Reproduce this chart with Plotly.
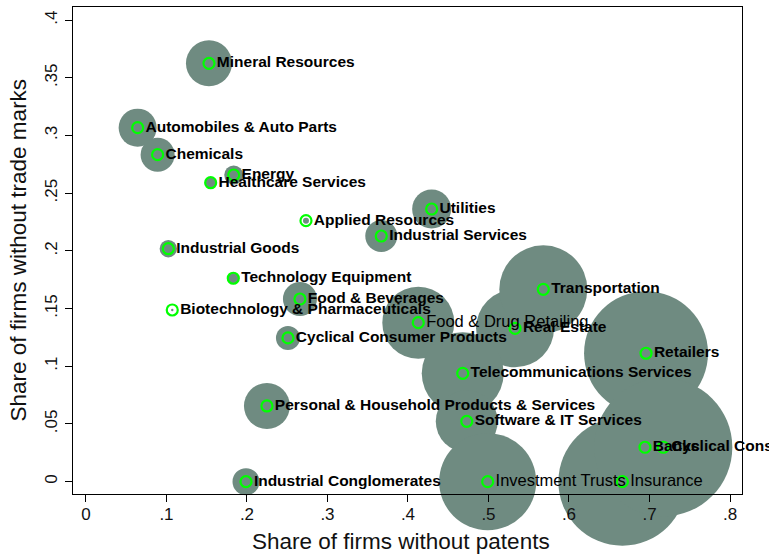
import plotly.graph_objects as go

# Sector-level shares (x: firms without patents, y: firms without trade marks)
sectors = [
    "Mineral Resources", "Automobiles & Auto Parts", "Chemicals", "Energy",
    "Healthcare Services", "Applied Resources", "Utilities", "Industrial Services",
    "Industrial Goods", "Technology Equipment", "Biotechnology & Pharmaceuticals",
    "Food & Beverages", "Cyclical Consumer Products", "Food & Drug Retailing",
    "Real Estate", "Transportation", "Retailers", "Telecommunications Services",
    "Personal & Household Products & Services", "Software & IT Services",
    "Industrial Conglomerates", "Investment Trusts", "Insurance", "Banks",
    "Cyclical Consumer Services",
]
no_patent_share = [
    0.1528, 0.0642, 0.0890, 0.1835,
    0.1549, 0.2733, 0.4294, 0.3668,
    0.1023, 0.1830, 0.1072,
    0.2658, 0.2509, 0.4128,
    0.5330, 0.5681, 0.6957, 0.4680,
    0.2248, 0.4730,
    0.1988, 0.4990, 0.6663, 0.6944,
    0.7171,
]
no_trademark_share = [
    0.3626, 0.3068, 0.2834, 0.2658,
    0.2591, 0.2262, 0.2363, 0.2129,
    0.2019, 0.1763, 0.1488,
    0.1583, 0.1246, 0.1378,
    0.1329, 0.1667, 0.1113, 0.0939,
    0.0656, 0.0523,
    0.0, 0.0, 0.0, 0.0298,
    0.0298,
]
# Bubble weight (relative number of firms in the sector)
bubble_weight = [
    33.1, 22.6, 18.1, 5.6,
    1.9, 0.56, 23.8, 16.0,
    4.7, 2.25, 0.09,
    18.1, 9.0, 81.0,
    95.0, 121.0, 240.0, 105.0,
    33.0, 60.0,
    11.4, 147.0, 256.0, 56.0,
    298.0,
]
# Labels printed in normal weight (the rest are bold)
light_labels = {"Food & Drug Retailing", "Investment Trusts", "Insurance"}

x_ticks = [0, 0.1, 0.2, 0.3, 0.4, 0.5, 0.6, 0.7, 0.8]
x_tick_text = ["0", ".1", ".2", ".3", ".4", ".5", ".6", ".7", ".8"]
y_ticks = [0, 0.05, 0.1, 0.15, 0.2, 0.25, 0.3, 0.35, 0.4]
y_tick_text = ["0", ".05", ".1", ".15", ".2", ".25", ".3", ".35", ".4"]

FONT = "Arial, Liberation Sans, sans-serif"
BUBBLE = "rgb(111,139,129)"
RING = "#00ff00"

fig = go.Figure()

# Weighted bubbles
fig.add_trace(go.Scatter(
    x=no_patent_share, y=no_trademark_share, mode="markers",
    marker=dict(size=bubble_weight, sizemode="area", sizeref=1 / 32,
                color=BUBBLE, line=dict(width=0), opacity=1),
    cliponaxis=False, hoverinfo="skip", showlegend=False,
))

# Hollow point markers
fig.add_trace(go.Scatter(
    x=no_patent_share, y=no_trademark_share, mode="markers",
    marker=dict(symbol="circle-open", size=11, color=RING, line=dict(width=2.2, color=RING)),
    cliponaxis=False, hoverinfo="skip", showlegend=False,
))

# Sector labels, split by weight
for bold in (True, False):
    idx = [i for i, s in enumerate(sectors) if (s not in light_labels) == bold]
    fig.add_trace(go.Scatter(
        x=[no_patent_share[i] for i in idx],
        y=[no_trademark_share[i] for i in idx],
        text=[sectors[i] for i in idx],
        mode="markers+text", textposition="middle right",
        marker=dict(size=11, color="rgba(0,0,0,0)"),
        textfont=dict(family=FONT, size=15.5 if bold else 16.5, color="black",
                      weight="bold" if bold else "normal"),
        cliponaxis=False, hoverinfo="skip", showlegend=False,
    ))

axis_common = dict(
    showline=True, linecolor="black", linewidth=1.2, mirror=True,
    ticks="outside", ticklen=7, tickwidth=1.2, tickcolor="black",
    showgrid=False, zeroline=False,
    tickfont=dict(family=FONT, size=17, color="#111"),
)

fig.update_xaxes(range=[-0.0161, 0.8149], tickvals=x_ticks, ticktext=x_tick_text,
                 ticklabelstandoff=-3, **axis_common)
fig.update_yaxes(range=[-0.0107, 0.4114], tickvals=y_ticks, ticktext=y_tick_text,
                 tickangle=-90, ticklabelstandoff=1, **axis_common)

fig.update_layout(
    width=769, height=554,
    margin=dict(l=73, r=27, t=7, b=60),
    paper_bgcolor="white", plot_bgcolor="white",
    annotations=[
        dict(text="Share of firms without patents", xref="paper", yref="paper",
             x=0.5, y=0, xshift=-7, yshift=-47, xanchor="center", yanchor="middle",
             showarrow=False, font=dict(family=FONT, size=22.5, color="#111")),
        dict(text="Share of firms without trade marks", xref="paper", yref="paper",
             x=0, y=0.5, xshift=-55, xanchor="center", yanchor="middle", textangle=-90,
             showarrow=False, font=dict(family=FONT, size=22.5, color="#111")),
    ],
)

fig.write_html("out.html")
